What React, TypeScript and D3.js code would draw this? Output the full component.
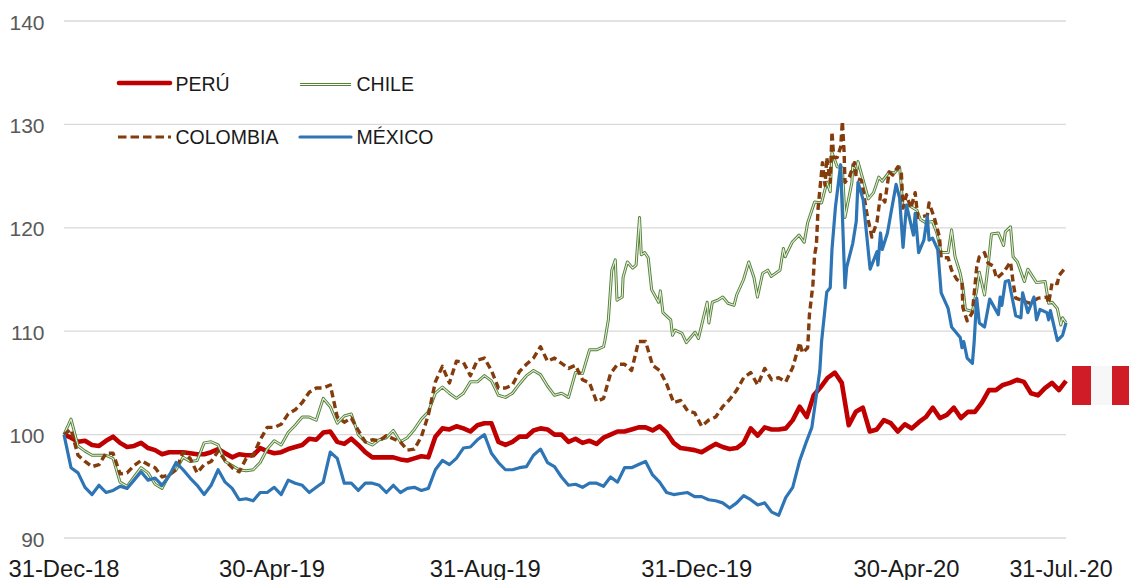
import React from "react";
import * as d3 from "d3";

const START_UTC = Date.UTC(2018, 11, 31);
const LAST_DAY = 578;
const GRID_STEPS = 143;

const yTicks = [90, 100, 110, 120, 130, 140];
const xTickDays = [0, 120, 243, 365, 486, 578];
const xTickLabels = ["31-Dec-18", "30-Apr-19", "31-Aug-19", "31-Dec-19", "30-Apr-20", "31-Jul.-20"];

const peruValues = [
  100, 99.7, 99.3, 99.4, 99.0, 98.9, 99.4, 99.8, 99.2, 98.8,
  98.9, 99.2, 98.7, 98.5, 98.1, 98.3, 98.3, 98.3, 98.2, 98.1,
  98.1, 98.3, 98.6, 98.2, 97.8, 98.1, 98.0, 98.0, 98.7, 98.4,
  98.2, 98.3, 98.6, 98.8, 99.0, 99.6, 99.5, 100.2, 100.3, 99.3,
  99.1, 99.6, 99.0, 98.3, 97.8, 97.8, 97.8, 97.8, 97.6, 97.5,
  97.7, 97.9, 97.8, 99.8, 100.6, 100.5, 100.8, 100.6, 100.3, 100.9,
  101.1, 101.1, 99.3, 99.0, 99.3, 99.8, 99.8, 100.4, 100.6, 100.5,
  100, 100, 99.3, 99.6, 99.2, 99.4, 99.1, 99.7, 100, 100.3,
  100.3, 100.5, 100.7, 100.7, 100.4, 100.8, 100.2, 99.2, 98.7, 98.6,
  98.5, 98.3, 98.7, 99.1, 98.8, 98.6, 98.7, 99.2, 100.6, 99.9,
  100.7, 100.5, 100.5, 100.6, 101.4, 102.7, 101.7, 103.8, 104.6, 105.5,
  106.0, 105.0, 100.9, 102.2, 102.6, 100.3, 100.5, 101.4, 101.1, 100.3,
  101.0, 100.6, 101.2, 101.7, 102.6, 101.6, 101.9, 102.6, 101.6, 102.2,
  102.2, 103.1, 104.3, 104.3, 104.8, 105.0, 105.3, 105.1, 104.0, 103.8,
  104.5, 105.0, 104.3, 105.2,
];

const mexicoEarly = [
  100, 96.8, 96.3, 94.9, 94.2, 95.1, 94.4, 94.6, 95.0, 94.8,
  95.6, 96.4, 95.6, 95.8, 95.1, 96.0, 97.3, 96.6, 95.8, 95.1,
  94.2, 95.1, 96.6, 95.4, 94.8, 93.7, 93.8, 93.6, 94.4, 94.4,
  94.9, 94.2, 95.6, 95.3, 95.1, 94.4, 94.9, 95.4, 98.3, 97.7,
  95.3, 95.3, 94.6, 95.3, 95.3, 95.1, 94.4, 95.1, 94.4, 94.8,
  94.9, 94.6, 94.8, 96.6, 97.5, 97.1, 97.7, 98.7, 98.8, 99.5,
  100, 98.2, 97.3, 96.6, 96.6, 96.8, 96.9, 98.0, 98.6, 97.3,
  96.9, 95.9, 95.1, 95.2, 94.9, 95.3, 95.3, 95.0, 95.9, 95.4,
  96.8, 96.8, 97.1, 97.4, 96.1, 95.4, 94.4, 94.2, 94.3, 94.4,
  94.0, 94.0, 93.7, 93.6, 93.4, 92.9, 93.4, 94.1, 93.7, 93.2,
  93.4, 92.5, 92.2, 93.9, 94.9, 97.5,
];
const mexicoLateDays = [
  428, 431.4, 436, 437, 440, 442, 443, 445, 448, 450.5, 451.5, 455, 457, 458, 461, 465, 469, 469.5, 471, 472,
  475, 477, 480, 482, 484, 486, 490, 491, 493, 496, 498, 499, 501, 504, 506, 510, 512, 517, 518, 519,
  521, 524, 525, 526.5, 528, 531, 534, 539, 540, 541, 543, 545, 549, 552, 553, 556, 559.5, 561, 563, 567,
  568, 569, 573, 576, 578,
];
const mexicoLateValues = [
  99.2, 100.7, 106.2, 109.0, 113.8, 114.2, 117.9, 122.0, 126.1, 114.2, 116.2, 118.5, 120.6, 124.4, 122.7, 116.0, 117.7, 116.4, 119.5, 117.9,
  119.5, 121.4, 124.2, 122.9, 118.1, 122.2, 119.3, 121.4, 117.6, 118.8, 121.1, 118.8, 119.0, 117.9, 113.7, 112.2, 110.4, 109.4, 108.4, 109.0,
  107.4, 106.9, 108.9, 113.2, 110.8, 110.4, 113.1, 111.6, 113.3, 112.5, 114.8, 114.9, 111.5, 111.3, 113.7, 111.8, 113.3, 111.1, 112.1, 111.8,
  111.1, 112.0, 109.1, 109.6, 110.8,
];

const colombiaEarly = [
  100, 100.5, 98.0, 97.4, 96.9, 97.1, 98.2, 98.2, 96.2, 96.3,
  97.0, 97.5, 97.1, 96.8, 95.9, 96.1, 96.6, 98.3, 97.7, 96.3,
  97.1, 97.4, 98.4, 97.5, 96.8, 96.4, 97.7, 98.0, 99.5, 100.7,
  100.7, 101.0, 102.0, 102.4, 103.1, 104.1, 104.5, 104.5, 104.8, 101.7,
  101.2, 101.6, 100.4, 99.3, 99.5, 99.4, 99.9, 99.6, 99.3, 98.5,
  98.6, 99.8, 101.9, 105.1, 106.6, 105.0, 107.1, 107.0, 105.7, 107.2,
  107.4, 106.2, 104.5, 104.5, 104.8, 106.1, 106.8, 107.4, 108.5, 107.1,
  107.4, 106.9, 106.4, 106.7, 105.3, 105.0, 103.2, 103.5, 105.9, 106.8,
  106.8, 106.2, 109.0, 109.0, 106.7, 106.2, 104.9, 103.1, 103.3, 102.3,
  102.1, 100.8, 101.4, 101.7, 102.7, 103.4, 104.3, 105.5, 106.0, 104.8,
  106.4, 105.3, 105.5, 105.1, 106.5, 108.9,
];
const colombiaLateDays = [
  426, 429, 430, 432, 433, 434, 435, 437, 437.5, 439, 440, 442, 443, 444, 446, 448, 449, 450, 450.5, 453,
  456, 457, 460, 463, 466, 469, 471, 473.5, 476, 478, 481, 483, 484, 486, 488.5, 491, 492.5, 498, 499, 502,
  505, 506, 510, 512, 515, 518, 518.5, 521, 524, 526.5, 528, 531, 533, 536, 538, 542, 546, 547.5, 549, 552.5,
  557, 562, 567, 568, 570, 573, 574, 577, 578,
];
const colombiaLateValues = [
  107.9, 108.4, 111.6, 114.5, 117.4, 118.3, 121.9, 125.4, 126.3, 124.1, 126.8, 124.4, 129.3, 126.8, 126.8, 127.8, 130.3, 127.3, 124.4, 124.9,
  126.3, 124.8, 124.6, 121.5, 119.1, 120.6, 123.2, 122.5, 125.4, 125.1, 125.9, 125.4, 121.9, 123.2, 121.9, 123.4, 121.0, 121.2, 122.4, 121.0,
  119.1, 117.1, 117.1, 115.9, 115.0, 114.7, 112.3, 111.0, 111.8, 116.2, 117.2, 117.6, 116.6, 116.3, 115.1, 115.7, 116.7, 114.7, 113.2, 113.0,
  112.7, 113.2, 113.3, 112.7, 114.7, 114.6, 115.4, 116.0, 116.1,
];

const chileEarly = [
  100, 101.5, 98.9, 98.4, 98.0, 98.0, 98.0, 97.7, 95.4, 95.0,
  95.9, 96.8, 96.3, 95.2, 94.8, 96.1, 96.6, 97.8, 97.4, 97.5,
  99.2, 99.3, 99.0, 97.4, 97.0, 96.6, 96.5, 96.6, 97.3, 98.6,
  99.4, 99.0, 100.2, 100.9, 101.7, 101.7, 101.4, 103.5, 102.7, 101.1,
  101.8, 102.0, 100, 99.3, 99.0, 99.5, 99.7, 100.4, 99.3, 99.7,
  100.5, 101.5, 102.2, 104.0, 104.6, 104.0, 103.5, 104.0, 105.1, 105.1,
  105.7, 105.2, 103.8, 103.6, 104.0, 104.9, 105.7, 106.2, 105.8, 104.7,
  103.8, 104.0, 103.6, 106.0, 105.9, 108.2, 108.2, 108.5,
];
const chileLateDays = [
  312, 314, 316, 318, 319, 322, 322.5, 325, 328, 330, 332, 333, 335, 337, 339, 343, 344, 345.5, 350, 351,
  352.5, 356.5, 359, 364, 366, 371, 372, 374, 377, 380, 383, 386.5, 388, 392, 395, 398, 400, 403, 406, 408,
  413, 415, 416, 420, 424, 427, 429, 433, 437, 440, 442, 443, 446, 449, 450.5, 454.5, 455, 457, 458, 461,
  464, 467, 470, 472, 476, 479, 482, 484, 487, 492, 494, 497, 501, 503.5, 506, 510, 512, 514, 517, 518.5,
  520, 524, 526.5, 528, 531, 533, 535, 539, 542, 543, 546, 547.5, 550, 554, 556, 561, 566, 568, 570, 573,
  575, 576, 578,
];
const chileLateValues = [
  109.1, 111.1, 115.9, 116.9, 113.0, 113.3, 115.2, 116.7, 116.1, 116.4, 121.0, 117.4, 117.6, 117.1, 114.0, 112.8, 113.9, 111.8, 111.1, 109.6,
  110.1, 109.8, 108.9, 109.9, 109.3, 112.8, 110.8, 112.8, 113.0, 113.3, 112.7, 112.5, 113.5, 115.0, 116.7, 115.2, 113.3, 115.6, 115.9, 115.3,
  115.9, 118.0, 117.2, 118.6, 119.3, 118.6, 120.5, 122.5, 122.4, 124.4, 123.5, 127.3, 125.9, 125.8, 121.0, 124.4, 126.1, 125.3, 126.4, 124.6,
  122.8, 123.4, 124.9, 124.5, 125.4, 125.3, 125.9, 122.0, 122.2, 121.7, 120.8, 120.5, 120.6, 119.5, 117.6, 117.6, 119.8, 117.2, 115.6, 114.3,
  112.1, 111.9, 114.0, 115.7, 113.5, 116.2, 119.4, 119.5, 118.3, 119.6, 120.1, 117.2, 116.7, 114.8, 116.0, 114.7, 114.8, 112.7, 112.8, 112.2,
  110.6, 111.3, 110.8,
];

const gridDay = (i: number) => (i * LAST_DAY) / GRID_STEPS;
const withGrid = (values: number[]) => values.map((v, i) => [gridDay(i), v] as [number, number]);
const withDays = (days: number[], values: number[]) => days.map((d, i) => [d, values[i]] as [number, number]);
const toDate = (day: number) => new Date(START_UTC + day * 864e5);

const peru = withGrid(peruValues);
const mexico = [...withGrid(mexicoEarly), ...withDays(mexicoLateDays, mexicoLateValues)];
const colombia = [...withGrid(colombiaEarly), ...withDays(colombiaLateDays, colombiaLateValues)];
const chile = [...withGrid(chileEarly), ...withDays(chileLateDays, chileLateValues)];

const RED = "#C00000";
const GREEN = "#548235";
const BROWN = "#843C0C";
const BLUE = "#2E75B6";
const FONT = "'Liberation Sans', Arial, sans-serif";

export default function App() {
  const x = d3.scaleUtc().domain([toDate(0), toDate(LAST_DAY)]).range([64, 1066]);
  const y = d3.scaleLinear().domain([90, 140]).range([538, 21]);
  const line = d3
    .line<[number, number]>()
    .x((d) => x(toDate(d[0])))
    .y((d) => y(d[1]));

  return (
    <svg
      width={1129}
      height={580}
      viewBox="0 0 1129 580"
      style={{ position: "absolute", left: 0, top: 0, display: "block", fontFamily: FONT }}
    >
      <rect width={1129} height={580} fill="#fff" />
      {yTicks.map((t) => (
        <g key={t}>
          <line x1={64} x2={1066} y1={y(t)} y2={y(t)} stroke="#D9D9D9" strokeWidth={1.3} />
          <text x={44.5} y={y(t) + 8.5} textAnchor="end" fontSize={21} fill="#595959">
            {t}
          </text>
        </g>
      ))}
      {xTickDays.map((d, i) => (
        <text
          key={d}
          x={x(toDate(d)) + (i === xTickDays.length - 1 ? -5 : 0)}
          y={576.5}
          textAnchor="middle"
          fontSize={i === xTickDays.length - 1 ? 23.2 : 23.8}
          fill="#1a1a1a"
        >
          {xTickLabels[i]}
        </text>
      ))}

      <path d={line(peru) ?? ""} fill="none" stroke={RED} strokeWidth={4.6} strokeLinejoin="round" />
      <path d={line(chile) ?? ""} fill="none" stroke={GREEN} strokeWidth={3} strokeLinejoin="round" />
      <path d={line(chile) ?? ""} fill="none" stroke="#fff" strokeWidth={1.1} strokeOpacity={0.85} strokeLinejoin="round" />
      <path d={line(colombia) ?? ""} fill="none" stroke={BROWN} strokeWidth={3.4} strokeDasharray="7 4" strokeLinejoin="round" />
      <path d={line(mexico) ?? ""} fill="none" stroke={BLUE} strokeWidth={3.2} strokeLinejoin="round" />

      <g fontSize={19.5} fill="#1a1a1a">
        <line x1={119} x2={170} y1={83} y2={83} stroke={RED} strokeWidth={4.6} strokeLinecap="round" />
        <text x={175.5} y={91}>PERÚ</text>
        <line x1={300} x2={351} y1={84.5} y2={84.5} stroke={GREEN} strokeWidth={3} />
        <line x1={300} x2={351} y1={84.5} y2={84.5} stroke="#fff" strokeWidth={1} />
        <text x={356.5} y={91}>CHILE</text>
        <line x1={118} x2={171} y1={137} y2={137} stroke={BROWN} strokeWidth={3.2} strokeDasharray="8.5 4" />
        <text x={175.5} y={144}>COLOMBIA</text>
        <line x1={300} x2={351} y1={137} y2={137} stroke={BLUE} strokeWidth={3.2} strokeLinecap="round" />
        <text x={356.5} y={144}>MÉXICO</text>
      </g>

      <rect x={1072} y={366} width={19} height={39} fill="#D01C27" />
      <rect x={1091} y={366} width={21} height={39} fill="#F7F7F7" />
      <rect x={1112} y={366} width={18} height={39} fill="#D01C27" />
    </svg>
  );
}
